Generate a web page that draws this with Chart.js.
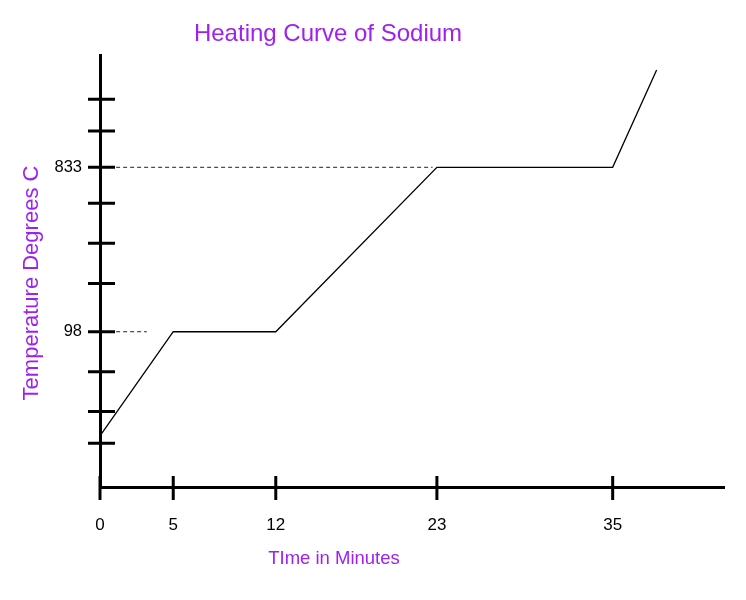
<!DOCTYPE html>
<html>
  <head>
    <title>Heating Curve of Sodium</title>
    <style>
      body {
        margin: 0;
        background: #ffffff;
      }
      .chart-container {
        width: 746px;
        height: 600px;
      }
    </style>
  </head>
  <body>
    <div class="chart-container">
      <canvas id="mycanvas"></canvas>
    </div>

    <script type="text/javascript" src="https://cdn.jsdelivr.net/npm/chart.js@4.4.1/dist/chart.umd.min.js"></script>
    <script>
      // time in minutes and temperature (degrees C) at the corners of the curve
      var timeMin = [0, 5, 12, 23, 35, 38];
      var tempC = [-368, 98, 98, 833, 833, 1268];

      // dashed guide lines to the melting / boiling plateaus
      var guide98Time = [1.1, 3.2];
      var guide833Time = [1.1, 22.7];

      var xTicks = [0, 5, 12, 23, 35];
      var yTicks = [1137, 995, 833, 672, 493, 314, 98, -81, -259, -401];
      var yLabelled = [98, 833];

      var chartTitle = "Heating Curve of Sodium";
      var xTitle = "TIme in Minutes";
      var yTitle = "Temperature Degrees C";

      var purple = "#a020f0";
      var fontName = "'Liberation Sans', Arial, sans-serif";

      function pairs(xs, ys) {
        var out = [];
        for (var i in xs) {
          out.push({ x: xs[i], y: ys[i] });
        }
        return out;
      }

      // cross tick marks and the free placed titles
      var handDrawn = {
        id: 'handDrawn',
        afterDraw: function(chart) {
          var ctx = chart.ctx;
          var area = chart.chartArea;
          var xs = chart.scales.x;
          var ys = chart.scales.y;

          ctx.save();
          ctx.strokeStyle = "#000";
          ctx.lineWidth = 3;
          ctx.beginPath();
          for (var i in yTicks) {
            var py = ys.getPixelForValue(yTicks[i]);
            ctx.moveTo(area.left - 12, py);
            ctx.lineTo(area.left + 15, py);
          }
          for (var j in xTicks) {
            var px = xs.getPixelForValue(xTicks[j]);
            ctx.moveTo(px, area.bottom - 11);
            ctx.lineTo(px, area.bottom + 13);
          }
          ctx.stroke();

          ctx.fillStyle = purple;
          ctx.textAlign = "center";
          ctx.textBaseline = "middle";
          ctx.font = "24px " + fontName;
          ctx.fillText(chartTitle, 328, 34);
          ctx.font = "18.5px " + fontName;
          ctx.fillText(xTitle, 334, 559);

          ctx.translate(32, 283);
          ctx.rotate(-Math.PI / 2);
          ctx.font = "22px " + fontName;
          ctx.fillText(yTitle, 0, 0);
          ctx.restore();
        }
      };

      var chartdata = {
        datasets: [
          {
            label: "temperature",
            data: pairs(timeMin, tempC),
            borderColor: "#000",
            borderWidth: 1.3,
            pointRadius: 0,
            fill: false,
            lineTension: 0
          },
          {
            label: "guide 98",
            data: pairs(guide98Time, [98, 98]),
            borderColor: "#222",
            borderWidth: 1,
            borderDash: [4, 3],
            pointRadius: 0,
            fill: false
          },
          {
            label: "guide 833",
            data: pairs(guide833Time, [833, 833]),
            borderColor: "#222",
            borderWidth: 1,
            borderDash: [4, 3],
            pointRadius: 0,
            fill: false
          }
        ]
      };

      var ctx = document.getElementById("mycanvas");

      var LineGraph = new Chart(ctx, {
        type: 'line',
        data: chartdata,
        plugins: [handDrawn],
        options: {
          responsive: true,
          maintainAspectRatio: false,
          animation: false,
          layout: {
            padding: { left: 0, right: 22, top: 55, bottom: 0 }
          },
          plugins: {
            legend: { display: false },
            title: { display: false },
            tooltip: { enabled: false }
          },
          scales: {
            x: {
              type: 'linear',
              min: 0,
              max: 42.6,
              afterBuildTicks: function(scale) {
                scale.ticks = xTicks.map(function(v) { return { value: v }; });
              },
              afterFit: function(scale) {
                scale.height = 113;
              },
              grid: {
                drawOnChartArea: false,
                color: "rgba(0,0,0,0)",
                tickLength: 13
              },
              border: { display: true, color: "#000", width: 3 },
              ticks: {
                color: "#000",
                padding: 15,
                maxRotation: 0,
                autoSkip: false,
                font: { family: fontName, size: 17 }
              }
            },
            y: {
              type: 'linear',
              min: -596,
              max: 1335,
              afterBuildTicks: function(scale) {
                scale.ticks = yTicks.map(function(v) { return { value: v }; });
              },
              afterFit: function(scale) {
                scale.width = 100;
              },
              grid: {
                drawOnChartArea: false,
                color: "rgba(0,0,0,0)",
                tickLength: 12
              },
              border: { display: true, color: "#000", width: 3 },
              ticks: {
                color: "#000",
                padding: 6,
                autoSkip: false,
                font: { family: fontName, size: 16.5 },
                callback: function(value) {
                  return yLabelled.indexOf(value) >= 0 ? String(value) : '';
                }
              }
            }
          }
        }
      });
    </script>
  </body>
</html>
